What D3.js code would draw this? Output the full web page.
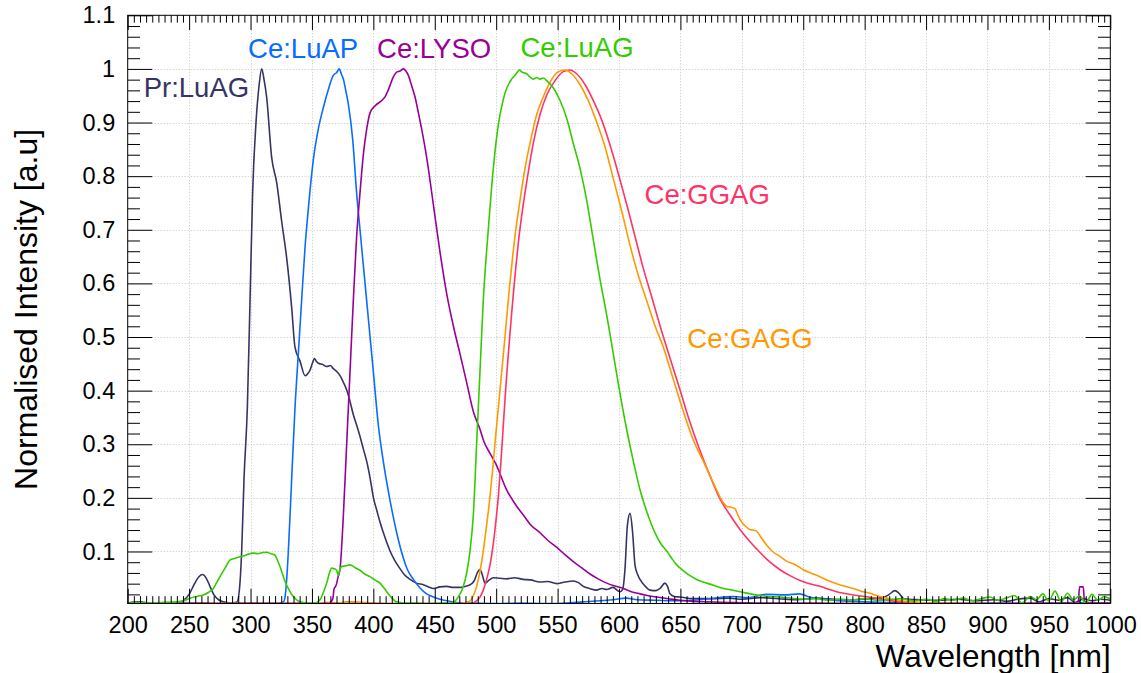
<!DOCTYPE html>
<html>
<head>
<meta charset="utf-8">
<script src="https://cdn.jsdelivr.net/npm/d3@7"></script>
<style>
  html, body { margin: 0; padding: 0; background: #fff; }
  svg { display: block; font-family: "Liberation Sans", Arial, Helvetica, sans-serif; }
</style>
</head>
<body>
<svg id="chart" width="1141" height="673"></svg>
<script>
// Emission spectra, [wavelength (nm), normalised intensity]
const prLuAG = [[200,0.004],[210,0.006],[220,0.003],[230,0.005],[240,0.004],[245,0.008],[250,0.02],[254,0.038],[258,0.053],[261,0.057],[264,0.05],[267,0.035],[270,0.02],[274,0.01],[278,0.006],[284,0.004],[289,0.006],[291,0.03],[292.8,0.101],[294.7,0.235],[297.4,0.368],[299.6,0.568],[301.7,0.768],[304.5,0.901],[307,0.97],[309.1,1.0],[311,0.98],[313.1,0.948],[317.2,0.835],[321.3,0.788],[325.4,0.715],[329.4,0.648],[333.5,0.555],[336.2,0.481],[340.3,0.455],[344.4,0.428],[346,0.43],[348.4,0.438],[350.5,0.452],[352,0.46],[353.5,0.455],[355.2,0.451],[358.5,0.449],[362,0.445],[365,0.447],[367.4,0.441],[370,0.436],[372.9,0.428],[375.5,0.416],[378.3,0.401],[381,0.38],[383.7,0.355],[386.5,0.335],[389.1,0.315],[392,0.29],[394.6,0.268],[397.5,0.235],[400,0.201],[403,0.175],[405.4,0.155],[409.5,0.126],[413.6,0.101],[417.5,0.083],[421.7,0.068],[425.5,0.056],[429.9,0.048],[435,0.041],[440.7,0.038],[445,0.034],[448.8,0.031],[454,0.034],[459.7,0.035],[465,0.033],[470.5,0.033],[475,0.035],[478.7,0.038],[482,0.045],[485,0.062],[486.8,0.067],[488.5,0.058],[490.9,0.041],[494,0.046],[497.7,0.051],[503,0.050],[508.5,0.049],[515,0.051],[522.1,0.048],[528,0.047],[535.7,0.043],[542,0.044],[549.2,0.040],[556,0.043],[562.8,0.045],[567,0.042],[570.9,0.035],[576,0.031],[581.8,0.028],[586,0.031],[590,0.029],[595,0.033],[600.8,0.025],[603,0.03],[604.9,0.068],[606.8,0.148],[609,0.171],[611.1,0.135],[613,0.075],[615,0.058],[617.1,0.048],[621,0.036],[625.2,0.028],[630,0.027],[633.4,0.031],[637.4,0.041],[639.5,0.035],[641.5,0.021],[645,0.016],[649.7,0.015],[660,0.012],[675,0.012],[690,0.013],[700,0.011],[715,0.014],[730,0.012],[745,0.010],[760,0.013],[775,0.011],[790,0.010],[805,0.012],[815,0.014],[820,0.02],[824.7,0.027],[828,0.022],[832,0.012],[845,0.01],[860,0.009],[875,0.011],[890,0.008],[905,0.010],[915,0.007],[925,0.011],[935,0.013],[942,0.006],[950,0.012],[958,0.009],[965,0.014],[972,0.004],[978,0.012],[985,0.008],[992,0.011],[1000,0.009]];

const ceLuAP = [[200,0.003],[215,0.004],[230,0.003],[245,0.005],[260,0.004],[275,0.003],[290,0.004],[305,0.003],[315,0.004],[322,0.004],[326.7,0.006],[328.1,0.015],[329.5,0.05],[330.8,0.101],[333.5,0.235],[336.2,0.368],[338.9,0.468],[341.6,0.568],[344.4,0.668],[346.5,0.725],[348.4,0.772],[351.1,0.83],[355.2,0.888],[359.3,0.928],[363.3,0.961],[367.4,0.988],[370,0.993],[372.3,1.0],[374,0.99],[375.6,0.981],[377.5,0.96],[379.6,0.935],[383.2,0.868],[386.4,0.768],[389.1,0.701],[391.8,0.635],[395.9,0.535],[400,0.435],[404.1,0.335],[408.1,0.268],[413.6,0.195],[419,0.135],[424.4,0.088],[428,0.065],[432.6,0.048],[438,0.032],[443.4,0.021],[448,0.016],[454.3,0.011],[460,0.008],[467.8,0.005],[480,0.004],[500,0.003],[520,0.004],[540,0.003],[557,0.004],[570,0.006],[585,0.008],[595,0.01],[606,0.013],[615,0.01],[630,0.009],[650,0.008],[670,0.011],[693,0.016],[705,0.014],[720,0.02],[735,0.019],[747,0.021],[755,0.015],[765,0.012],[780,0.008],[800,0.006],[830,0.004],[860,0.003],[900,0.004],[940,0.003],[970,0.005],[1000,0.004]];

const ceLYSO = [[200,0.003],[220,0.004],[240,0.003],[260,0.004],[280,0.003],[300,0.004],[320,0.003],[340,0.004],[355,0.003],[364,0.004],[367,0.012],[368,0.03],[369,0.034],[370.1,0.04],[371,0.05],[372.9,0.068],[375.6,0.168],[378.3,0.301],[381,0.435],[383.7,0.568],[386.4,0.688],[389.1,0.768],[391.9,0.841],[394.6,0.888],[397.3,0.918],[401.3,0.931],[406.8,0.941],[409.5,0.948],[412.2,0.961],[416.3,0.985],[419,0.994],[421.7,0.996],[424.4,1.0],[426.5,0.996],[428.5,0.988],[431,0.97],[433.9,0.948],[436.5,0.92],[439.3,0.888],[443.4,0.835],[448.8,0.748],[454.3,0.658],[459.7,0.581],[465.1,0.521],[470.6,0.468],[476,0.415],[481.4,0.361],[486.8,0.328],[490,0.305],[495,0.283],[500,0.262],[508.5,0.215],[515,0.19],[522.1,0.168],[528,0.15],[535.7,0.135],[542,0.121],[549.2,0.108],[556,0.094],[562.8,0.081],[570,0.069],[576.4,0.058],[583,0.049],[590,0.041],[596,0.036],[603.5,0.031],[610,0.025],[617.1,0.021],[623,0.018],[630.7,0.015],[640,0.012],[649.7,0.009],[660,0.007],[671.4,0.006],[690,0.005],[720,0.004],[760,0.004],[800,0.003],[850,0.004],[900,0.003],[950,0.004],[970,0.004],[974,0.008],[975,0.034],[978,0.034],[979,0.006],[985,0.004],[1000,0.004]];

const ceLuAG = [[200,0.003],[210,0.005],[220,0.004],[230,0.005],[240,0.006],[245.3,0.008],[250.7,0.013],[256,0.016],[261.5,0.019],[266,0.024],[269.7,0.031],[272,0.04],[275.1,0.053],[279,0.068],[283.3,0.084],[287,0.087],[291.4,0.09],[295,0.092],[298,0.095],[302.3,0.097],[306,0.096],[310,0.098],[313.2,0.0985],[316.5,0.096],[319.9,0.093],[322,0.083],[324,0.072],[326,0.058],[328.1,0.044],[331,0.03],[334.8,0.016],[338,0.009],[343,0.005],[351,0.003],[356.6,0.01],[359,0.022],[362,0.041],[364,0.058],[366.1,0.069],[368,0.068],[370.1,0.065],[371.5,0.055],[372.5,0.065],[374.2,0.072],[377,0.073],[381,0.075],[385,0.07],[389.1,0.065],[393,0.058],[397.3,0.053],[401,0.047],[405.4,0.041],[408,0.034],[410.9,0.025],[414,0.016],[419,0.006],[425,0.004],[435,0.004],[445,0.003],[455,0.004],[462,0.004],[465.1,0.005],[469,0.015],[473.3,0.035],[476,0.06],[478.7,0.101],[481.4,0.168],[484.1,0.301],[486.8,0.435],[489.5,0.568],[493.6,0.701],[497.7,0.815],[501.7,0.895],[504.5,0.93],[507.2,0.955],[512.6,0.981],[516,0.99],[518.8,0.998],[521,0.994],[524.8,0.991],[527.5,0.985],[530.2,0.981],[533,0.984],[535.7,0.981],[538.5,0.983],[541.1,0.978],[546.5,0.965],[552,0.941],[557.4,0.908],[562.8,0.861],[568.2,0.815],[573.7,0.755],[579.1,0.681],[584.5,0.608],[590,0.541],[595.4,0.468],[600.8,0.395],[606.2,0.328],[611.7,0.268],[617.1,0.215],[622.5,0.175],[626.5,0.15],[630.7,0.128],[634.5,0.113],[638.8,0.101],[643,0.087],[647,0.075],[652,0.065],[657.8,0.055],[664,0.047],[671.4,0.041],[678,0.036],[685.1,0.031],[692,0.028],[698.7,0.025],[707,0.021],[714.9,0.018],[723,0.016],[731.3,0.015],[740,0.013],[750,0.011],[760,0.012],[770,0.009],[780,0.011],[790,0.01],[800,0.012],[810,0.009],[820,0.01],[830,0.012],[840,0.008],[850,0.011],[858,0.007],[865,0.012],[872,0.009],[880,0.013],[888,0.008],[895,0.012],[902,0.015],[908,0.009],[915,0.013],[922,0.018],[928,0.004],[935,0.016],[940,0.01],[945,0.021],[950,0.008],[955,0.026],[960,0.006],[965,0.022],[970,0.01],[975,0.017],[980,0.004],[985,0.02],[990,0.009],[995,0.016],[1000,0.011]];

const ceGGAG = [[200,0.003],[250,0.003],[300,0.003],[355,0.003],[362,0.005],[370,0.004],[380,0.006],[390,0.005],[400,0.004],[420,0.003],[450,0.003],[470,0.003],[478,0.003],[481.4,0.004],[484,0.008],[486.8,0.015],[489.5,0.028],[492.2,0.048],[495,0.075],[497.7,0.115],[499.7,0.155],[501.7,0.201],[503.8,0.265],[505.8,0.335],[507.8,0.405],[509.9,0.468],[512,0.528],[514,0.581],[516,0.63],[518,0.675],[520,0.713],[522.1,0.748],[526.2,0.808],[530.2,0.861],[535.7,0.915],[541.1,0.951],[547.9,0.978],[554.7,0.995],[560.1,0.998],[565.5,0.991],[572.3,0.971],[579.1,0.941],[585.9,0.905],[592.7,0.858],[599.4,0.805],[606.2,0.748],[613,0.688],[619.8,0.628],[626.6,0.575],[633.4,0.521],[641.5,0.461],[649.7,0.401],[657.8,0.341],[666,0.288],[674.1,0.241],[682.2,0.198],[690.4,0.168],[698.5,0.141],[706.7,0.118],[714.8,0.098],[723,0.08],[731.1,0.066],[739.2,0.055],[747.4,0.046],[755,0.04],[763.6,0.035],[770,0.03],[777.2,0.025],[790.7,0.019],[804.3,0.0145],[817.9,0.0093],[831.5,0.006],[845,0.004],[858.6,0.003],[900,0.003],[950,0.003],[1000,0.003]];

const ceGAGG = [[200,0.003],[300,0.003],[370,0.003],[375,0.005],[385,0.006],[395,0.004],[420,0.003],[460,0.003],[470.5,0.003],[475,0.005],[478.7,0.008],[481.5,0.018],[484.1,0.035],[487,0.065],[489.5,0.101],[492,0.145],[494.9,0.201],[497,0.25],[499,0.301],[501,0.35],[503.1,0.401],[505.2,0.452],[507.2,0.501],[509.2,0.552],[511.2,0.601],[513.3,0.647],[515.3,0.688],[517.3,0.722],[519.4,0.755],[523.5,0.815],[527.5,0.861],[533,0.915],[538.4,0.948],[543.8,0.975],[550.6,0.995],[556,0.998],[561.5,0.991],[568.2,0.971],[575,0.941],[581.8,0.901],[588.6,0.855],[595.4,0.795],[602.2,0.735],[609,0.671],[615.7,0.615],[622.5,0.568],[629.3,0.521],[636.1,0.481],[644.2,0.421],[652.4,0.361],[660.5,0.308],[668.7,0.268],[676.8,0.228],[685,0.191],[688,0.184],[690.4,0.183],[694.4,0.18],[697,0.167],[699.9,0.155],[703,0.147],[706.6,0.141],[709,0.14],[712,0.138],[716,0.125],[720.2,0.112],[725,0.1],[731.1,0.091],[736.5,0.082],[741.9,0.077],[747.4,0.07],[750,0.066],[756,0.06],[763.6,0.053],[770,0.046],[777.2,0.040],[784,0.035],[790.7,0.031],[797,0.026],[804.3,0.022],[811,0.017],[817.9,0.013],[824,0.01],[831.5,0.0077],[845,0.0052],[858.6,0.0032],[885,0.003],[900,0.003]];

const seriesNames  = ["Pr:LuAG", "Ce:LuAP", "Ce:LYSO", "Ce:GGAG", "Ce:GAGG", "Ce:LuAG"];
const seriesData   = [prLuAG, ceLuAP, ceLYSO, ceGGAG, ceGAGG, ceLuAG];
const seriesColors = ["#343465", "#0a6cff", "#990099", "#ff3366", "#ff9900", "#33cc00"];

const xTicks = [200,250,300,350,400,450,500,550,600,650,700,750,800,850,900,950,1000];
const xTickLabels = ["200","250","300","350","400","450","500","550","600","650","700","750","800","850","900","950","1000"];
const yTicks = [0.1,0.2,0.3,0.4,0.5,0.6,0.7,0.8,0.9,1.0,1.1];
const yTickLabels = ["0.1","0.2","0.3","0.4","0.5","0.6","0.7","0.8","0.9","1","1.1"];

// ---- frame & scales ----
const svg = d3.select("#chart");
const frame = { left: 127.7, right: 1110.3, top: 15.3, bottom: 603.5 };
const x = d3.scaleLinear().domain([200, 1000]).range([frame.left, frame.right]);
const y = d3.scaleLinear().domain([0.003, 1.1]).range([frame.bottom, frame.top]);
const fw = frame.right - frame.left, fh = frame.bottom - frame.top;
const tickY = 0.025 * fw, tickX = 0.025 * fh;

svg.append("rect").attr("width", 1141).attr("height", 673).attr("fill", "#fff");

// grid
const grid = svg.append("g").attr("stroke", "#c4c4c4").attr("stroke-width", 1).attr("stroke-dasharray", "1,2");
grid.selectAll("line.gx").data(xTicks.slice(1, -1)).join("line")
  .attr("x1", d => Math.round(x(d)) + 0.5).attr("x2", d => Math.round(x(d)) + 0.5)
  .attr("y1", frame.top).attr("y2", frame.bottom);
grid.selectAll("line.gy").data(yTicks.slice(0, -1)).join("line")
  .attr("x1", frame.left).attr("x2", frame.right)
  .attr("y1", d => Math.round(y(d)) + 0.5).attr("y2", d => Math.round(y(d)) + 0.5);

// spectra
svg.append("clipPath").attr("id", "plotClip").append("rect")
  .attr("x", frame.left).attr("y", frame.top).attr("width", fw).attr("height", fh);
const line = d3.line().x(d => x(d[0])).y(d => y(d[1])).curve(d3.curveMonotoneX);
svg.append("g").attr("clip-path", "url(#plotClip)")
  .selectAll("path").data(seriesData).join("path")
  .attr("d", line).attr("fill", "none")
  .attr("stroke", (d, i) => seriesColors[i]).attr("stroke-width", 1.6)
  .attr("stroke-linejoin", "round");

// axes
const minorX = d3.range(200, 1000.1, 5).filter(v => v % 50 !== 0);
const minorY = d3.range(0.02, 1.1, 0.02).map(v => +v.toFixed(2)).filter(v => Math.abs(v * 10 - Math.round(v * 10)) > 1e-6);

function styleAxis(g) {
  g.select(".domain").remove();
  g.selectAll(".tick line").attr("stroke", "#000").attr("stroke-width", 1);
  g.selectAll("text").attr("fill", "#000").attr("font-size", 23.5);
}

svg.append("g").attr("transform", `translate(0,${frame.bottom})`)
  .call(d3.axisBottom(x).tickValues(xTicks).tickSize(-tickX).tickPadding(12.5)
    .tickFormat((d, i) => xTickLabels[i]))
  .call(styleAxis);
svg.append("g").attr("transform", `translate(0,${frame.bottom})`)
  .call(d3.axisBottom(x).tickValues(minorX).tickSize(-tickX / 2).tickFormat(""))
  .call(styleAxis);
svg.append("g").attr("transform", `translate(0,${frame.top})`)
  .call(d3.axisTop(x).tickValues(xTicks).tickSize(-tickX).tickFormat(""))
  .call(styleAxis);
svg.append("g").attr("transform", `translate(0,${frame.top})`)
  .call(d3.axisTop(x).tickValues(minorX).tickSize(-tickX / 2).tickFormat(""))
  .call(styleAxis);

svg.append("g").attr("transform", `translate(${frame.left},0)`)
  .call(d3.axisLeft(y).tickValues(yTicks).tickSize(-tickY).tickPadding(12.5)
    .tickFormat((d, i) => yTickLabels[i]))
  .call(styleAxis);
svg.append("g").attr("transform", `translate(${frame.left},0)`)
  .call(d3.axisLeft(y).tickValues(minorY).tickSize(-tickY / 2).tickFormat(""))
  .call(styleAxis);
svg.append("g").attr("transform", `translate(${frame.right},0)`)
  .call(d3.axisRight(y).tickValues(yTicks).tickSize(-tickY).tickFormat(""))
  .call(styleAxis);
svg.append("g").attr("transform", `translate(${frame.right},0)`)
  .call(d3.axisRight(y).tickValues(minorY).tickSize(-tickY / 2).tickFormat(""))
  .call(styleAxis);

// frame
svg.append("rect").attr("x", frame.left).attr("y", frame.top)
  .attr("width", fw).attr("height", fh)
  .attr("fill", "none").attr("stroke", "#000").attr("stroke-width", 1);

// axis titles
svg.append("text").attr("x", frame.right + 0.5).attr("y", 666.5)
  .attr("text-anchor", "end").attr("font-size", 31.5).attr("fill", "#000")
  .text("Wavelength [nm]");
svg.append("text")
  .attr("transform", `translate(36.5,${(frame.top + frame.bottom) / 2}) rotate(-90)`)
  .attr("text-anchor", "middle").attr("font-size", 32).attr("fill", "#000")
  .text("Normalised Intensity [a.u]");

// series labels (anchored in data coordinates)
const labelAt = {
  "Pr:LuAG": [213.0, 0.948],
  "Ce:LuAP": [298.0, 1.021],
  "Ce:LYSO": [403.0, 1.021],
  "Ce:LuAG": [519.8, 1.022],
  "Ce:GGAG": [620.8, 0.749],
  "Ce:GAGG": [655.6, 0.4795]
};
svg.append("g").selectAll("text").data(seriesNames).join("text")
  .attr("x", d => x(labelAt[d][0])).attr("y", d => y(labelAt[d][1]))
  .attr("font-size", 27.5).attr("fill", (d, i) => seriesColors[i])
  .text(d => d);
</script>
</body>
</html>
